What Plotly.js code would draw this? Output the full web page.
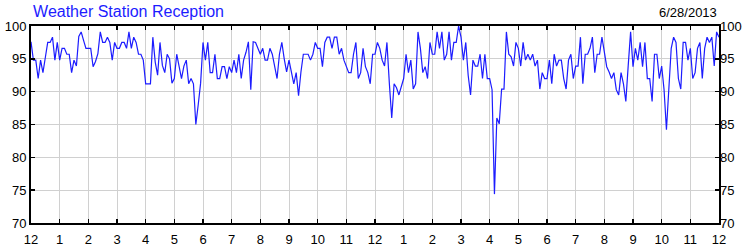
<!DOCTYPE html>
<html>
<head>
<meta charset="utf-8">
<script src="https://cdn.plot.ly/plotly-3.0.1.min.js"></script>
<style>html,body{margin:0;padding:0;background:#fff;}#chart{width:750px;height:250px;}</style>
</head>
<body>
<div id="chart"></div>
<script>
// Reception (%) sampled every 5 minutes over 24 hours
const sampleMinutes = 5;
const reception = [
97.6,94.8,94.8,92.0,94.8,92.9,95.2,97.5,97.5,98.3,94.8,97.5,94.8,96.6,96.6,95.7,95.7,92.9,94.8,93.9,
98.4,99.1,97.8,96.6,96.6,96.6,93.8,94.6,95.8,99.1,97.5,97.5,98.3,97.5,94.8,97.5,96.6,96.6,97.5,97.5,
96.6,99.1,96.6,98.3,97.5,95.7,95.7,94.8,91.2,91.2,91.2,98.3,94.5,92.5,97.5,94.0,92.9,95.7,95.0,91.3,
92.0,95.7,93.9,92.0,93.9,94.8,91.2,92.0,91.2,85.0,88.0,91.3,97.5,94.8,97.5,92.9,92.9,95.7,92.0,92.0,
93.8,93.8,92.0,93.8,92.9,94.8,92.9,95.7,92.0,94.8,96.0,97.6,90.3,97.6,97.5,96.6,95.7,96.6,94.8,94.8,
96.6,95.7,93.8,92.0,95.7,97.5,95.0,93.0,94.8,92.9,91.2,92.9,89.4,93.0,95.7,95.7,95.7,94.8,95.7,97.5,
96.6,96.6,93.8,97.5,98.3,98.3,96.6,98.3,98.3,95.7,96.6,94.8,93.8,92.9,92.9,95.7,97.5,92.0,92.9,96.6,
93.8,92.9,91.2,95.7,95.7,97.5,96.6,94.8,93.9,97.5,91.3,86.0,91.2,90.6,89.5,90.6,92.0,95.7,92.9,94.8,
90.4,91.2,99.1,96.6,92.9,93.8,92.0,97.5,95.7,95.7,99.1,96.6,99.1,94.8,95.7,99.1,94.8,97.5,97.5,100.0,
98.3,94.8,97.5,92.5,89.5,94.8,93.9,93.9,95.7,92.0,95.7,92.0,92.0,90.3,74.4,86.0,85.1,90.4,90.4,99.1,
95.7,95.3,93.9,97.5,96.6,93.9,97.5,94.8,95.7,94.8,95.7,93.9,94.8,90.4,92.9,92.0,92.0,94.8,91.2,95.7,
93.9,94.8,94.8,92.0,90.4,94.8,95.7,92.0,93.9,93.9,98.3,91.2,95.7,95.7,96.6,98.3,92.9,95.7,95.7,98.3,
95.7,93.8,93.0,92.0,92.9,90.3,89.5,92.9,91.2,88.5,94.0,99.1,93.8,96.6,94.8,97.5,93.8,97.5,92.0,92.0,
88.5,95.7,95.7,92.0,93.9,90.3,84.2,90.3,96.6,98.3,97.5,92.0,90.4,97.5,97.5,94.8,96.6,92.0,92.9,96.6,
97.5,92.0,96.6,98.3,97.5,98.3,93.9,99.1,98.3
];
const hourTicks = [0,1,2,3,4,5,6,7,8,9,10,11,12,13,14,15,16,17,18,19,20,21,22,23,24];
const hourLabels = ["12","1","2","3","4","5","6","7","8","9","10","11","12","1","2","3","4","5","6","7","8","9","10","11","12"];
const yTicks = [70,75,80,85,90,95,100];
const chartTitle = "Weather Station Reception";
const chartDate = "6/28/2013";

const hours = reception.map((_, i) => i * sampleMinutes / 60);

const font = {family: "Liberation Sans, Arial, sans-serif", size: 13, color: "#000"};

const data = [
  {x: hours, y: reception, type: "scatter", mode: "lines",
   line: {color: "#1c1cff", width: 1.2}, hoverinfo: "skip", xaxis: "x", yaxis: "y"},
  {x: hours, y: reception, type: "scatter", mode: "lines",
   line: {color: "rgba(0,0,0,0)", width: 0}, hoverinfo: "skip", xaxis: "x", yaxis: "y2", showlegend: false}
];

const layout = {
  width: 750, height: 250,
  margin: {l: 31, r: 31, t: 26, b: 27, pad: 0},
  paper_bgcolor: "#fff", plot_bgcolor: "#fff",
  showlegend: false,
  font: font,
  title: {text: chartTitle, x: 0.003, xanchor: "left", y: 0.955, yanchor: "middle",
          xref: "paper", yref: "container",
          font: {family: "Liberation Sans, Arial, sans-serif", size: 16, color: "#1c1cff"}},
  xaxis: {
    range: [0, 24], tickvals: hourTicks, ticktext: hourLabels,
    showgrid: true, gridcolor: "#d0d0d0", gridwidth: 1,
    showline: true, linecolor: "#000", linewidth: 2, mirror: "ticks",
    ticks: "inside", ticklen: 4, tickwidth: 1.5, tickcolor: "#000",
    ticklabelstandoff: 3,
    zeroline: false, fixedrange: true, tickfont: font
  },
  yaxis: {
    range: [70, 100], tickvals: yTicks,
    showgrid: true, gridcolor: "#d0d0d0", gridwidth: 1,
    showline: true, linecolor: "#000", linewidth: 2, mirror: "ticks",
    ticks: "inside", ticklen: 4, tickwidth: 1.5, tickcolor: "#000",
    zeroline: false, fixedrange: true, tickfont: font
  },
  yaxis2: {
    range: [70, 100], tickvals: yTicks, overlaying: "y", side: "right",
    showgrid: false, showline: false, ticks: "", zeroline: false, fixedrange: true, tickfont: font
  },
  annotations: [
    {text: chartDate, xref: "paper", yref: "paper", x: 1, y: 1, xanchor: "right", yanchor: "bottom",
     yshift: 4, showarrow: false, font: font}
  ]
};

Plotly.newPlot("chart", data, layout, {displayModeBar: false, staticPlot: true});
</script>
</body>
</html>
